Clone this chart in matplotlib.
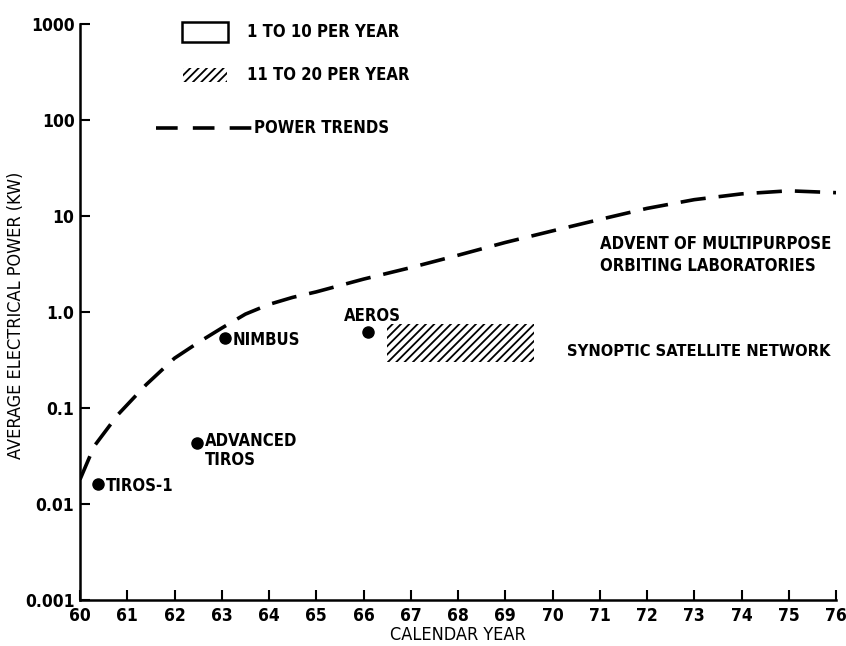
import matplotlib
matplotlib.use("Agg")
import matplotlib.pyplot as plt
from matplotlib import font_manager as fm
from matplotlib.patches import Rectangle
from matplotlib.lines import Line2D

# pick a narrow font if there is one
narrow = [f for f in fm.fontManager.ttflist
          if 'Narrow' in f.name or f.stretch in ('condensed', 'semi-condensed', 500, 300)]
if any(f.name == 'Liberation Sans Narrow' for f in narrow):
    plt.rcParams['font.family'] = ['Liberation Sans Narrow', 'DejaVu Sans']
else:
    plt.rcParams['font.family'] = ['DejaVu Sans']
    plt.rcParams['font.stretch'] = 'condensed'
plt.rcParams['font.weight'] = 'bold'
plt.rcParams['hatch.linewidth'] = 1.3

# power trend curve (calendar year, kW)
trend_years = [60.0, 60.3, 60.8, 61.4, 62.0, 62.5, 63.0, 63.5, 64.0, 64.5, 65.0,
               66.0, 67.0, 68.0, 69.0, 70.0, 71.0, 72.0, 73.0, 74.0, 75.0, 76.0]
trend_kw = [0.018, 0.04, 0.085, 0.175, 0.33, 0.48, 0.68, 0.95, 1.2, 1.42, 1.62,
            2.2, 2.9, 3.9, 5.3, 7.0, 9.2, 12.0, 14.8, 17.0, 18.3, 17.5]

# satellites
sat_names = ["TIROS-1", "ADVANCED\nTIROS", "NIMBUS", "AEROS"]
sat_years = [60.38, 62.47, 63.06, 66.1]
sat_kw = [0.016, 0.043, 0.53, 0.62]

# synoptic network block (11 to 20 per year)
net_years = [66.5, 69.6]
net_kw = [0.3, 0.75]

x_ticks = list(range(60, 77))
y_ticks = [0.001, 0.01, 0.1, 1.0, 10, 100, 1000]
y_labels = ["0.001", "0.01", "0.1", "1.0", "10", "100", "1000"]

fig = plt.figure(figsize=(8.46, 6.46), dpi=100)
ax = fig.add_axes([80 / 846, 46 / 646, 756 / 846, 576 / 646])

ax.plot(trend_years, trend_kw, color='black', lw=2.6,
        linestyle=(0, (7, 3.6)), solid_capstyle='butt')
ax.plot(sat_years, sat_kw, 'o', color='black', ms=8)

ax.add_patch(Rectangle((net_years[0], net_kw[0]), net_years[1] - net_years[0],
                       net_kw[1] - net_kw[0], facecolor='none', edgecolor='black',
                       lw=0, hatch='////'))

# point labels
ax.annotate(sat_names[0], (sat_years[0], sat_kw[0]), xytext=(6, -1),
            textcoords='offset points', va='center', ha='left', fontsize=12)
ax.annotate(sat_names[1], (sat_years[1], sat_kw[1]), xytext=(6, 8),
            textcoords='offset points', va='top', ha='left', fontsize=12,
            linespacing=1.05)
ax.annotate(sat_names[2], (sat_years[2], sat_kw[2]), xytext=(6, -1),
            textcoords='offset points', va='center', ha='left', fontsize=12)
ax.annotate(sat_names[3], (sat_years[3], sat_kw[3]), xytext=(3, 5),
            textcoords='offset points', va='bottom', ha='center', fontsize=12)

ax.text(70.3, 0.39, "SYNOPTIC SATELLITE NETWORK", va='center', ha='left',
        fontsize=11.8)
ax.text(71.0, 3.9, "ADVENT OF MULTIPURPOSE\nORBITING LABORATORIES", va='center',
        ha='left', fontsize=12, linespacing=1.3)

ax.set_yscale('log')
ax.set_xlim(60, 76)
ax.set_ylim(0.001, 1000)
ax.set_xticks(x_ticks)
ax.set_xticklabels([str(v) for v in x_ticks])
ax.set_yticks(y_ticks)
ax.set_yticklabels(y_labels)
ax.minorticks_off()
ax.tick_params(direction='in', length=7, width=1.5, labelsize=12.5)
ax.tick_params(axis='x', pad=5)
ax.tick_params(axis='y', pad=4)
for s in ['top', 'right']:
    ax.spines[s].set_visible(False)
for s in ['left', 'bottom']:
    ax.spines[s].set_linewidth(1.8)

ax.set_xlabel("CALENDAR YEAR", fontsize=13, labelpad=1, fontweight='normal')
fig.text(16 / 846, 1 - 315 / 646, "AVERAGE ELECTRICAL POWER (KW)", rotation=90,
         va='center', ha='center', fontsize=13, fontweight='normal')

# legend drawn by hand in figure pixels
def fx(px):
    return px / 846

def fy(py):
    return 1 - py / 646

fig.patches.append(Rectangle((fx(182), fy(42)), 46 / 846, 20 / 646,
                             transform=fig.transFigure, facecolor='none',
                             edgecolor='black', lw=1.8))
fig.patches.append(Rectangle((fx(183), fy(82)), 44 / 846, 14 / 646,
                             transform=fig.transFigure, facecolor='none',
                             edgecolor='black', lw=0, hatch='////'))
fig.lines.append(Line2D([fx(156), fx(252)], [fy(128), fy(128)],
                        transform=fig.transFigure, color='black', lw=2.6,
                        linestyle=(0, (6.0, 4.2)), solid_capstyle='butt'))
fig.text(fx(247), fy(32), "1 TO 10 PER YEAR", va='center', ha='left', fontsize=12)
fig.text(fx(247), fy(75), "11 TO 20 PER YEAR", va='center', ha='left', fontsize=12)
fig.text(fx(254), fy(128), "POWER TRENDS", va='center', ha='left', fontsize=12)

fig.savefig("out.png", dpi=100)
